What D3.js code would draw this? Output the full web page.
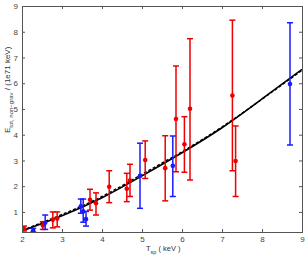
<!DOCTYPE html>
<html lang="en">
<head>
    <meta charset="UTF-8">
    <title>E tot vs T sp</title>
    <style>
        body { margin: 0; background: #fff; }
        svg { display: block; font-family: "Liberation Sans", Arial, sans-serif; }
        .axis text { fill: #444; font-size: 8px; }
        .axis line { stroke: #555; }
    </style>
    <script src="https://cdn.jsdelivr.net/npm/d3@7"></script>
</head>
<body>
    <script>
        // red sample: T, E, low, high
        const redT    = [2.05, 2.52, 2.77, 2.88, 3.7, 3.85, 4.18, 4.62, 4.7, 5.08, 5.58, 5.85, 6.06, 6.2, 7.26, 7.34]
        const redE    = [0.34, 0.47, 0.70, 0.74, 1.47, 1.34, 1.98, 1.9, 2.22, 3.02, 2.7, 4.61, 3.63, 5.01, 5.52, 2.98]
        const redLo   = [0.26, 0.32, 0.38, 0.42, 1.07, 0.88, 1.36, 1.4, 1.6, 2.3, 1.43, 2.56, 2.54, 2.24, 2.6, 1.6]
        const redHi   = [0.45, 0.62, 1.0, 1.0, 1.88, 1.74, 2.6, 2.5, 2.85, 3.76, 3.96, 6.67, 4.7, 7.73, 8.45, 4.34]
        // blue sample
        const blueT   = [2.28, 2.58, 3.47, 3.53, 3.6, 4.95, 5.77, 8.7]
        const blueE   = [0.28, 0.58, 1.22, 1.02, 0.72, 2.4, 2.79, 5.97]
        const blueLo  = [0.22, 0.32, 0.95, 0.6, 0.45, 1.14, 1.6, 3.6]
        const blueHi  = [0.36, 0.88, 1.5, 1.5, 1.02, 3.67, 3.95, 8.35]
        // fitted curves
        const fitT      = [2, 3, 4, 5, 6, 7, 8, 9]
        const fitSolid  = [0.26, 0.85, 1.55, 2.4, 3.3, 4.27, 5.39, 6.54]
        const fitDashed = [0.28, 0.9, 1.6, 2.46, 3.34, 4.3, 5.38, 6.5]

        const xTicks = [2, 3, 4, 5, 6, 7, 8, 9]
        const yTicks = [1, 2, 3, 4, 5, 6, 7, 8, 9]

        const width = 308
        const height = 255
        const margin = { top: 6, right: 5, bottom: 23, left: 22 }

        const svg = d3.select('body').append('svg').attr('width', width).attr('height', height)

        const x = d3.scaleLinear().domain([2, 9]).range([margin.left, width - margin.right - 1])
        const y = d3.scaleLinear().domain([0.22, 9]).range([height - margin.bottom, margin.top])

        svg.append('clipPath').attr('id', 'clip').append('rect')
            .attr('x', margin.left).attr('y', margin.top)
            .attr('width', x(9) - margin.left).attr('height', y(0.22) - margin.top)

        const plot = svg.append('g').attr('clip-path', 'url(#clip)')

        // curves
        const line = d3.line().x((d, i) => x(fitT[i])).y(d => y(d)).curve(d3.curveNatural)
        plot.append('path').attr('d', line(fitSolid))
            .attr('fill', 'none').attr('stroke', '#000').attr('stroke-width', 1.6)
        plot.append('path').attr('d', line(fitDashed))
            .attr('fill', 'none').attr('stroke', '#000').attr('stroke-width', 1.4)
            .attr('stroke-dasharray', '3,2')

        function drawSeries(T, E, lo, hi, color) {
            const g = plot.append('g')
            const cap = 3
            T.forEach((t, i) => {
                const cx = x(t)
                g.append('line').attr('x1', cx).attr('x2', cx).attr('y1', y(lo[i])).attr('y2', y(hi[i]))
                    .attr('stroke', color).attr('stroke-width', 1.5)
                ;[lo[i], hi[i]].forEach(v => {
                    g.append('line').attr('x1', cx - cap).attr('x2', cx + cap).attr('y1', y(v)).attr('y2', y(v))
                        .attr('stroke', color).attr('stroke-width', 1.5)
                })
                g.append('circle').attr('cx', cx).attr('cy', y(E[i])).attr('r', 2.3).attr('fill', color)
            })
        }
        drawSeries(redT, redE, redLo, redHi, '#ee0000')
        drawSeries(blueT, blueE, blueLo, blueHi, '#1a1aff')

        // axes, ticks pointing inward
        const bottom = height - margin.bottom
        const fmt = d3.format('d')
        svg.append('g').attr('class', 'axis').attr('transform', `translate(0,${bottom})`)
            .call(d3.axisBottom(x).tickValues(xTicks).tickFormat(fmt).tickSize(-3).tickPadding(4))
            .call(g => g.select('.domain').remove())
        svg.append('g').attr('class', 'axis').attr('transform', `translate(0,${margin.top})`)
            .call(d3.axisTop(x).tickValues(xTicks).tickSize(-3).tickFormat(''))
            .call(g => g.select('.domain').remove())
        svg.append('g').attr('class', 'axis').attr('transform', `translate(${margin.left},0)`)
            .call(d3.axisLeft(y).tickValues(yTicks).tickFormat(fmt).tickSize(-3).tickPadding(4))
            .call(g => g.select('.domain').remove())
        svg.append('g').attr('class', 'axis').attr('transform', `translate(${x(9)},0)`)
            .call(d3.axisRight(y).tickValues(yTicks).tickSize(-3).tickFormat(''))
            .call(g => g.select('.domain').remove())

        svg.append('rect')
            .attr('x', margin.left + 0.5).attr('y', margin.top + 0.5)
            .attr('width', x(9) - margin.left).attr('height', bottom - margin.top)
            .attr('fill', 'none').attr('stroke', '#555')

        // axis titles
        const xl = svg.append('text').attr('x', 146).attr('y', 251)
            .attr('font-size', 7.5).attr('fill', '#333')
        xl.append('tspan').text('T')
        xl.append('tspan').attr('dy', 2.5).attr('font-size', 5.5).text('sp')
        xl.append('tspan').attr('dy', -2.5).text(' ( keV )')

        const yl = svg.append('text').attr('transform', 'translate(10,133) rotate(-90)')
            .attr('font-size', 8).attr('fill', '#333')
        yl.append('tspan').text('E')
        yl.append('tspan').attr('dy', 3).attr('font-size', 6).text('tot, non\u2212grav')
        yl.append('tspan').attr('dy', -3).text(' / (1e71 keV)')
    </script>
</body>
</html>
